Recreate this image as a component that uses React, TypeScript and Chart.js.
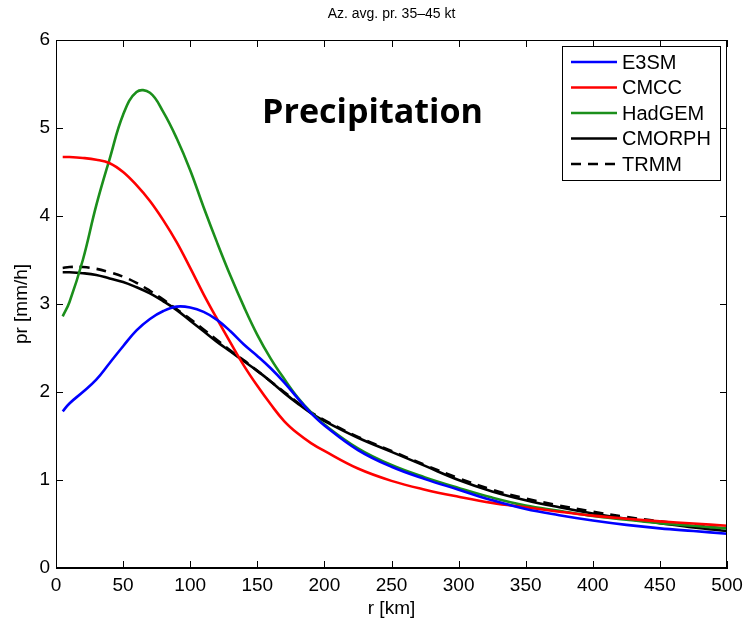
import React, { useEffect, useRef } from "react";
import { Chart, registerables } from "chart.js";

Chart.register(...registerables);

const radius = [5, 10, 20, 30, 40, 50, 60, 70, 80, 90, 100, 110, 120, 130, 140, 150, 160, 170, 180, 190, 200, 225, 250, 275, 300, 325, 350, 375, 400, 425, 450, 475, 500];

const e3sm = [1.78, 1.87, 2.0, 2.14, 2.33, 2.52, 2.70, 2.83, 2.92, 2.97, 2.96, 2.91, 2.82, 2.69, 2.54, 2.41, 2.27, 2.11, 1.93, 1.76, 1.62, 1.34, 1.15, 1.01, 0.89, 0.77, 0.67, 0.60, 0.54, 0.49, 0.45, 0.42, 0.39];
const cmcc = [4.67, 4.67, 4.66, 4.64, 4.60, 4.50, 4.35, 4.17, 3.95, 3.70, 3.41, 3.11, 2.83, 2.56, 2.30, 2.07, 1.86, 1.67, 1.53, 1.42, 1.33, 1.13, 0.99, 0.89, 0.81, 0.74, 0.69, 0.64, 0.595, 0.56, 0.53, 0.505, 0.48];
const hadgem = [2.86, 3.02, 3.50, 4.12, 4.65, 5.15, 5.41, 5.40, 5.18, 4.88, 4.52, 4.10, 3.70, 3.32, 2.97, 2.65, 2.38, 2.15, 1.94, 1.77, 1.63, 1.36, 1.17, 1.03, 0.91, 0.80, 0.71, 0.65, 0.59, 0.55, 0.51, 0.48, 0.45];
const cmorph = [3.36, 3.36, 3.35, 3.33, 3.29, 3.25, 3.19, 3.12, 3.03, 2.93, 2.81, 2.69, 2.57, 2.46, 2.35, 2.24, 2.12, 1.99, 1.87, 1.76, 1.67, 1.48, 1.32, 1.16, 1.00, 0.87, 0.77, 0.69, 0.62, 0.56, 0.51, 0.46, 0.42];
const trmm = [3.41, 3.42, 3.42, 3.40, 3.36, 3.31, 3.24, 3.15, 3.05, 2.94, 2.83, 2.71, 2.59, 2.47, 2.36, 2.24, 2.12, 2.00, 1.88, 1.77, 1.68, 1.49, 1.33, 1.17, 1.02, 0.89, 0.79, 0.71, 0.64, 0.58, 0.53, 0.49, 0.44];

const seriesNames = ["E3SM", "CMCC", "HadGEM", "CMORPH", "TRMM"];
const seriesColors = ["#0000ff", "#ff0000", "#1b8f1b", "#000000", "#000000"];
const seriesDash = [[], [], [], [], [10, 7]];
const seriesValues = [e3sm, cmcc, hadgem, cmorph, trmm];

const xTicks = [0, 50, 100, 150, 200, 250, 300, 350, 400, 450, 500];
const yTicks = [0, 1, 2, 3, 4, 5, 6];

const titleText = "Az. avg. pr. 35\u201345 kt";
const xLabel = "r [km]";
const yLabel = "pr [mm/h]";
const annotationText = "Precipitation";

const FONT = "'Liberation Sans', Arial, Helvetica, sans-serif";

const framePlugin = {
  id: "matlabFrame",
  afterDraw(chart: any) {
    const { ctx, chartArea: a, scales } = chart;
    const xs = scales.x;
    const ys = scales.y;
    ctx.save();
    ctx.strokeStyle = "#000";
    ctx.lineWidth = 1;
    ctx.strokeRect(a.left + 0.5, a.top + 0.5, a.right - a.left - 1, a.bottom - a.top - 1);
    const tl = 7;
    ctx.beginPath();
    xTicks.forEach((v) => {
      const px = Math.round(xs.getPixelForValue(v)) + 0.5;
      ctx.moveTo(px, a.bottom);
      ctx.lineTo(px, a.bottom - tl);
      ctx.moveTo(px, a.top);
      ctx.lineTo(px, a.top + tl);
    });
    yTicks.forEach((v) => {
      const py = Math.round(ys.getPixelForValue(v)) + 0.5;
      ctx.moveTo(a.left, py);
      ctx.lineTo(a.left + tl, py);
      ctx.moveTo(a.right, py);
      ctx.lineTo(a.right - tl, py);
    });
    ctx.stroke();

    ctx.fillStyle = "#000";
    ctx.font = `14px ${FONT}`;
    ctx.textAlign = "center";
    ctx.textBaseline = "middle";
    ctx.fillText(titleText, (a.left + a.right) / 2, 14);

    ctx.font = `bold 34px 'Open Sans', 'Noto Sans', sans-serif`;
    ctx.textAlign = "left";
    ctx.textBaseline = "alphabetic";
    const w = ctx.measureText(annotationText).width;
    const targetW = 221;
    ctx.save();
    ctx.translate(262, 123);
    ctx.scale(targetW / w, 1);
    ctx.fillText(annotationText, 0, 0);
    ctx.restore();

    const bx = a.right - 165;
    const by = a.top + 6;
    const bw = 158;
    const bh = 134;
    ctx.fillStyle = "#fff";
    ctx.fillRect(bx, by, bw, bh);
    ctx.strokeStyle = "#000";
    ctx.lineWidth = 1;
    ctx.strokeRect(bx + 0.5, by + 0.5, bw, bh);
    ctx.font = `20px ${FONT}`;
    ctx.textBaseline = "middle";
    seriesNames.forEach((name, i) => {
      const ly = by + 16 + i * 25.5;
      ctx.strokeStyle = seriesColors[i];
      ctx.lineWidth = 2.5;
      ctx.setLineDash(seriesDash[i]);
      ctx.beginPath();
      ctx.moveTo(bx + 9, ly);
      ctx.lineTo(bx + 55, ly);
      ctx.stroke();
      ctx.setLineDash([]);
      ctx.fillStyle = "#000";
      ctx.fillText(name, bx + 60, ly + 1);
    });
    ctx.restore();
  },
};

export default function App() {
  const canvasRef = useRef<HTMLCanvasElement | null>(null);

  useEffect(() => {
    document.body.style.margin = "0";
    const canvas = canvasRef.current;
    if (!canvas) return;
    const datasets = seriesNames.map((name, i) => ({
      label: name,
      data: radius.map((r, j) => ({ x: r, y: seriesValues[i][j] })),
      borderColor: seriesColors[i],
      backgroundColor: seriesColors[i],
      borderWidth: 2.6,
      borderDash: seriesDash[i],
      pointRadius: 0,
      fill: false,
      tension: 0.4,
    }));
    const chart = new Chart(canvas, {
      type: "line",
      data: { datasets },
      options: {
        animation: false,
        responsive: true,
        maintainAspectRatio: false,
        layout: { padding: { top: 40, right: 18, left: 0, bottom: 0 } },
        plugins: {
          legend: { display: false },
          title: { display: false },
          tooltip: { enabled: false },
        },
        scales: {
          x: {
            type: "linear",
            min: 0,
            max: 500,
            afterBuildTicks: (scale: any) => {
              scale.ticks = xTicks.map((v) => ({ value: v }));
            },
            afterFit: (scale: any) => {
              scale.height = 52;
            },
            ticks: {
              color: "#000",
              font: { size: 19, family: FONT },
              padding: -2,
              maxRotation: 0,
              autoSkip: false,
            },
            grid: { display: false },
            border: { display: true, color: "#000" },
            title: {
              display: true,
              text: xLabel,
              color: "#000",
              font: { size: 19, family: FONT },
              padding: { top: 0, bottom: 0 },
            },
          },
          y: {
            type: "linear",
            min: 0,
            max: 6,
            afterBuildTicks: (scale: any) => {
              scale.ticks = yTicks.map((v) => ({ value: v }));
            },
            afterFit: (scale: any) => {
              scale.width = 56;
            },
            ticks: {
              color: "#000",
              font: { size: 19, family: FONT },
              padding: -2,
              autoSkip: false,
            },
            grid: { display: false },
            border: { display: true, color: "#000" },
            title: {
              display: true,
              text: yLabel,
              color: "#000",
              font: { size: 19, family: FONT },
              padding: { top: 10, bottom: 0 },
            },
          },
        },
      },
      plugins: [framePlugin],
    });
    return () => chart.destroy();
  }, []);

  return (
    <div style={{ width: 745, height: 620, position: "relative", background: "#fff" }}>
      <canvas ref={canvasRef} />
    </div>
  );
}
